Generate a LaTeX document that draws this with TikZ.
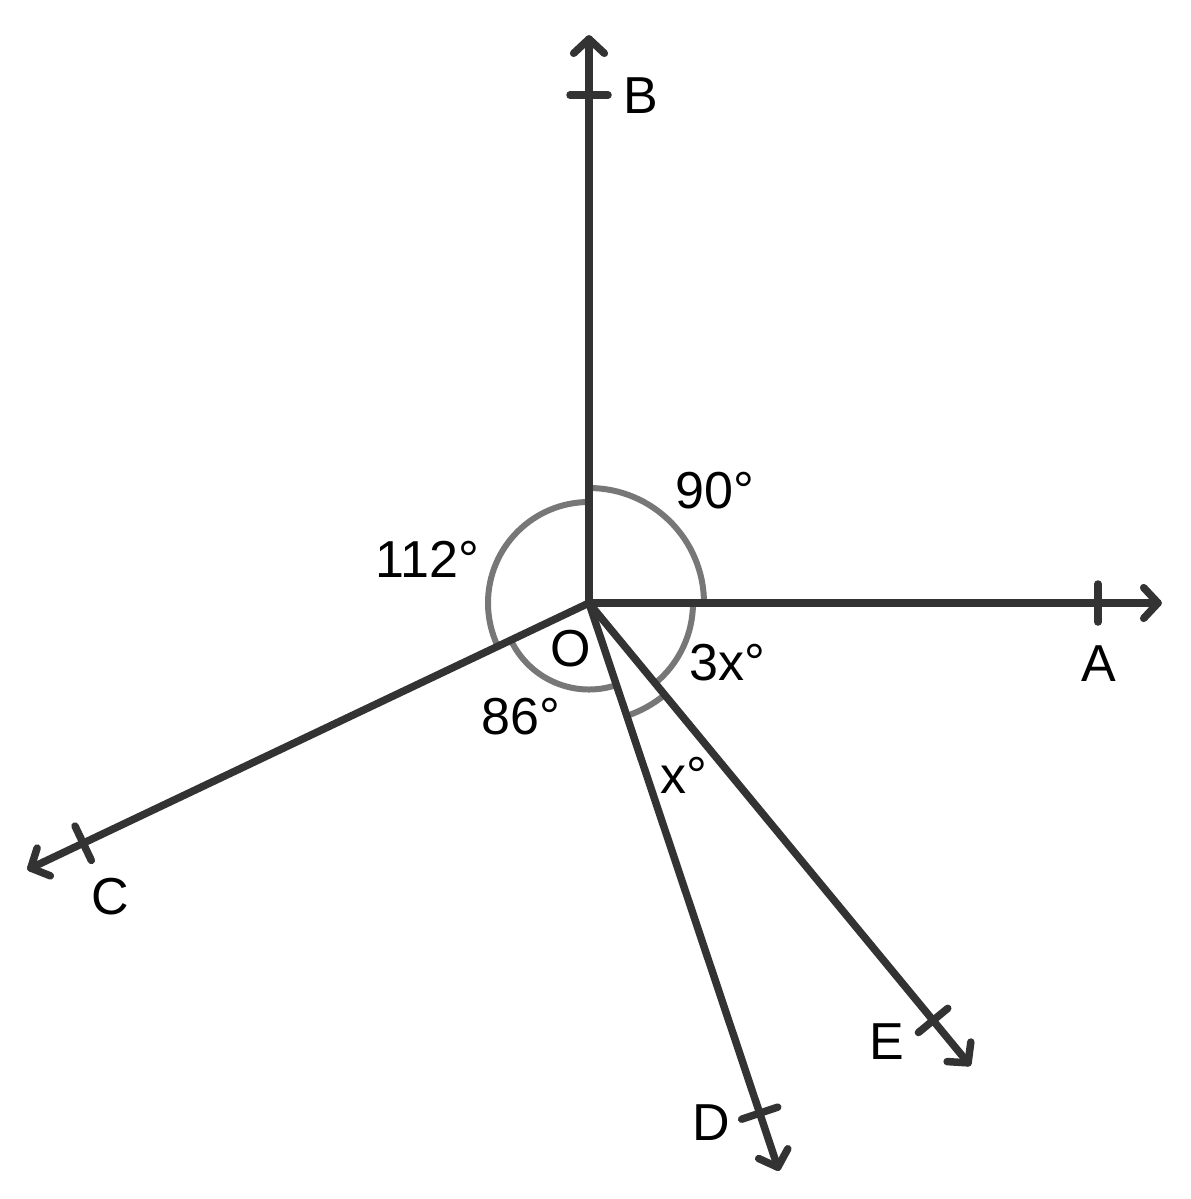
\documentclass[tikz,border=0pt]{standalone}
\usepackage{fontspec}
\setmainfont{Liberation Sans}
\usetikzlibrary{calc}
\definecolor{raycol}{HTML}{333333}
\definecolor{arccol}{HTML}{777777}
\tikzset{
  ray/.style={draw=raycol, line width=3.75pt, line cap=round, line join=round},
  tickmark/.style={draw=raycol, line width=3.75pt, line cap=round},
  anglearc/.style={draw=arccol, line width=3pt},
  lbl/.style={anchor=base, inner sep=0pt, font=\fontsize{26}{30}\selectfont, text=black}
}
\begin{document}
\begin{tikzpicture}[x=0.5pt, y=-0.5pt]
\useasboundingbox (0,0) rectangle (1190,1199);
\coordinate (O) at (589,603);
% directions (screen angles, clockwise) and lengths
\coordinate (A) at ($(O)+(0:569)$);
\coordinate (B) at ($(O)+(-90:564)$);
\coordinate (C) at ($(O)+(154.6:618)$);
\coordinate (D) at ($(O)+(71.5:595)$);
\coordinate (E) at ($(O)+(50.5:596)$);
% angle arcs
\draw[anglearc] ($(O)+(0:115)$) arc[start angle=0, end angle=-90, radius=115];
\draw[anglearc] ($(O)+(-90:101)$) arc[start angle=-90, end angle=-205.4, radius=101];
\draw[anglearc] ($(O)+(154.6:86.5)$) arc[start angle=154.6, end angle=71.5, radius=86.5];
\draw[anglearc] ($(O)+(0:104)$) arc[start angle=0, end angle=50.5, radius=104];
\draw[anglearc] ($(O)+(50.5:119)$) arc[start angle=50.5, end angle=71.5, radius=119];
% rays
\draw[ray] (O) -- (A);
\draw[ray] (O) -- (B);
\draw[ray] (O) -- (C);
\draw[ray] (O) -- (D);
\draw[ray] (O) -- (E);
% arrowheads
\draw[ray] ($(A)+(133:21)$) -- (A) -- ($(A)+(227:21)$);
\draw[ray] ($(B)+(43:21)$) -- (B) -- ($(B)+(137:21)$);
\draw[ray] ($(C)+(-72.4:21)$) -- (C) -- ($(C)+(21.6:21)$);
\draw[ray] ($(D)+(204.5:21)$) -- (D) -- ($(D)+(298.5:21)$);
\draw[ray] ($(E)+(183.5:21)$) -- (E) -- ($(E)+(277.5:21)$);
% ticks
\coordinate (tA) at ($(O)+(0:509)$);
\coordinate (tB) at ($(O)+(-90:508)$);
\coordinate (tC) at ($(O)+(154.6:560)$);
\coordinate (tD) at ($(O)+(71.5:538)$);
\coordinate (tE) at ($(O)+(50.5:541)$);
\draw[tickmark] ($(tA)+(90:19)$) -- ($(tA)+(-90:19)$);
\draw[tickmark] ($(tB)+(0:19)$) -- ($(tB)+(180:19)$);
\draw[tickmark] ($(tC)+(64.6:19)$) -- ($(tC)+(244.6:19)$);
\draw[tickmark] ($(tD)+(161.5:19)$) -- ($(tD)+(-18.5:19)$);
\draw[tickmark] ($(tE)+(140.5:19)$) -- ($(tE)+(-39.5:19)$);
% labels
\node[lbl] (lB) at (641,113) {B};
\node[lbl] (lA) at (1099,681) {A};
\node[lbl] (lC) at (110,914) {C};
\node[lbl] (lD) at (711,1140) {D};
\node[lbl] (lE) at (887,1059) {E};
\node[lbl] (lO) at (571,666) {O};
\node[lbl] (l90) at (715,508) {90°};
\node[lbl] (l112) at (427,577) {112°};
\node[lbl] (l3x) at (727,680) {3x°};
\node[lbl] (l86) at (521,734) {86°};
\node[lbl] (lx) at (684,793) {x°};
\end{tikzpicture}
\end{document}
